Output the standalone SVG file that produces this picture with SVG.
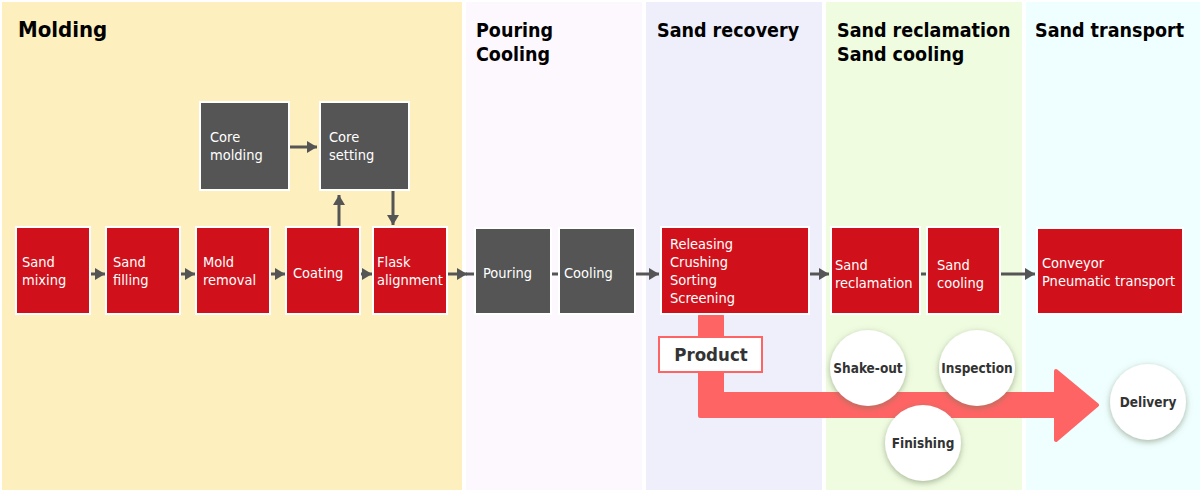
<svg xmlns="http://www.w3.org/2000/svg" width="1200" height="490" viewBox="0 0 1200 490">
<defs>
<style>
.hdr{font-family:"DejaVu Sans Condensed","DejaVu Sans",sans-serif;font-weight:bold;font-size:19.5px;fill:#000}
.red{fill:#D0111B;stroke:#fff;stroke-width:2}
.gray{fill:#555555;stroke:#fff;stroke-width:2}
.nt{font-family:"DejaVu Sans Condensed","DejaVu Sans",sans-serif;font-size:14.5px;fill:#fff}
.ct{font-family:"DejaVu Sans Condensed","DejaVu Sans",sans-serif;font-weight:bold;font-size:13.5px;fill:#333;text-anchor:middle}
.conn{stroke:#555;stroke-width:3;fill:none}
.circ{fill:#fff;filter:url(#sh)}
</style>
<marker id="ah" markerUnits="userSpaceOnUse" markerWidth="10" markerHeight="12" refX="10" refY="6" orient="auto">
<path d="M0,0 L10,6 L0,12 Z" fill="#555"/>
</marker>
<filter id="sh" x="-30%" y="-30%" width="160%" height="160%">
<feGaussianBlur in="SourceAlpha" stdDeviation="3"/>
<feOffset dx="0" dy="2" result="b"/>
<feFlood flood-color="#6b7a5a" flood-opacity="0.55"/>
<feComposite in2="b" operator="in"/>
<feMerge><feMergeNode/><feMergeNode in="SourceGraphic"/></feMerge>
</filter>
</defs>

<g id="panels">
<rect x="2" y="2" width="460" height="488" fill="#FDF0BE"/>
<rect x="466" y="2" width="176" height="488" fill="#FCF8FE"/>
<rect x="646" y="2" width="176" height="488" fill="#EFEFFC"/>
<rect x="826" y="2" width="196" height="488" fill="#EFFCE0"/>
<rect x="1026" y="2" width="174" height="488" fill="#EFFFFF"/>
<text class="hdr" x="18" y="37" style="font-size:22px">Molding</text>
<text class="hdr" x="476" y="37">Pouring</text>
<text class="hdr" x="476" y="61">Cooling</text>
<text class="hdr" x="657" y="37">Sand recovery</text>
<text class="hdr" x="837" y="37">Sand reclamation</text>
<text class="hdr" x="837" y="61">Sand cooling</text>
<text class="hdr" x="1035" y="37">Sand transport</text>
</g>

<g id="connectors">
<line class="conn" x1="91" y1="274" x2="105" y2="274" marker-end="url(#ah)"/>
<line class="conn" x1="181" y1="274" x2="195" y2="274" marker-end="url(#ah)"/>
<line class="conn" x1="271" y1="274" x2="285" y2="274" marker-end="url(#ah)"/>
<line class="conn" x1="361" y1="274" x2="372" y2="274" marker-end="url(#ah)"/>
<line class="conn" x1="448" y1="274" x2="467" y2="274" marker-end="url(#ah)"/>
<line class="conn" x1="466" y1="274" x2="474" y2="274"/>
<line class="conn" x1="551" y1="274" x2="559" y2="274"/>
<line class="conn" x1="636" y1="274" x2="659" y2="274" marker-end="url(#ah)"/>
<line class="conn" x1="809" y1="274" x2="829" y2="274" marker-end="url(#ah)"/>
<line class="conn" x1="920" y1="274" x2="927" y2="274"/>
<line class="conn" x1="1001" y1="274" x2="1035" y2="274" marker-end="url(#ah)"/>
<line class="conn" x1="290" y1="147" x2="317" y2="147" marker-end="url(#ah)"/>
<line class="conn" x1="339" y1="226" x2="339" y2="195" marker-end="url(#ah)"/>
<line class="conn" x1="393" y1="191" x2="393" y2="225" marker-end="url(#ah)"/>
</g>

<g id="product-flow">
<path d="M700,316 L722,316 L722,394 L1056,394 L1056,371 L1097,405 L1056,440 L1056,416 L700,416 Z" fill="#FF6464" stroke="#FF6464" stroke-width="4" stroke-linejoin="round"/>
</g>

<g id="product">
<rect x="659" y="337" width="103" height="35" fill="#fff" stroke="#FF6464" stroke-width="2"/>
<text x="711" y="361" text-anchor="middle" style="font-family:'DejaVu Sans Condensed','DejaVu Sans',sans-serif;font-weight:bold;font-size:18.5px;fill:#333">Product</text>
</g>

<g id="sand-mixing"><rect class="red" x="16" y="227" width="74" height="87"/><text class="nt" x="22" y="267">Sand</text><text class="nt" x="22" y="285">mixing</text></g>
<g id="sand-filling"><rect class="red" x="106" y="227" width="74" height="87"/><text class="nt" x="113" y="267">Sand</text><text class="nt" x="113" y="285">filling</text></g>
<g id="mold-removal"><rect class="red" x="196" y="227" width="74" height="87"/><text class="nt" x="203" y="267">Mold</text><text class="nt" x="203" y="285">removal</text></g>
<g id="coating"><rect class="red" x="286" y="227" width="74" height="87"/><text class="nt" x="293" y="278">Coating</text></g>
<g id="flask-alignment"><rect class="red" x="373" y="227" width="74" height="87"/><text class="nt" x="377" y="267">Flask</text><text class="nt" x="377" y="285">alignment</text></g>
<g id="core-molding"><rect class="gray" x="200" y="102" width="89" height="88"/><text class="nt" x="210" y="142">Core</text><text class="nt" x="210" y="160">molding</text></g>
<g id="core-setting"><rect class="gray" x="320" y="102" width="89" height="88"/><text class="nt" x="329" y="142">Core</text><text class="nt" x="329" y="160">setting</text></g>
<g id="pouring"><rect class="gray" x="475" y="228" width="76" height="86"/><text class="nt" x="483" y="278">Pouring</text></g>
<g id="cooling"><rect class="gray" x="559" y="228" width="76" height="86"/><text class="nt" x="564" y="278">Cooling</text></g>
<g id="recovery"><rect class="red" x="661" y="227" width="148" height="87"/><text class="nt" x="670" y="249">Releasing</text><text class="nt" x="670" y="267">Crushing</text><text class="nt" x="670" y="285">Sorting</text><text class="nt" x="670" y="303">Screening</text></g>
<g id="sand-reclamation"><rect class="red" x="831" y="227" width="89" height="87"/><text class="nt" x="835" y="270">Sand</text><text class="nt" x="835" y="288">reclamation</text></g>
<g id="sand-cooling"><rect class="red" x="927" y="227" width="73" height="87"/><text class="nt" x="937" y="270">Sand</text><text class="nt" x="937" y="288">cooling</text></g>
<g id="conveyor"><rect class="red" x="1037" y="228" width="146" height="86"/><text class="nt" x="1042" y="268">Conveyor</text><text class="nt" x="1042" y="286">Pneumatic transport</text></g>

<g id="shake-out"><circle class="circ" cx="868" cy="368" r="38"/><text class="ct" x="868" y="373">Shake-out</text></g>
<g id="inspection"><circle class="circ" cx="977" cy="368" r="38"/><text class="ct" x="977" y="373">Inspection</text></g>
<g id="finishing"><circle class="circ" cx="923" cy="443" r="38"/><text class="ct" x="923" y="448">Finishing</text></g>
<g id="delivery"><circle class="circ" cx="1148" cy="402" r="38"/><text class="ct" x="1148" y="407">Delivery</text></g>
</svg>
